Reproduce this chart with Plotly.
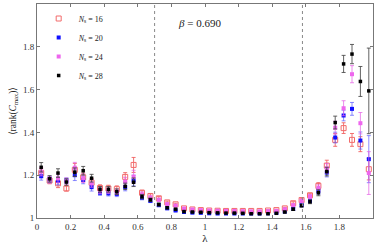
import plotly.graph_objects as go

lam = [0.025 + 0.05 * k for k in range(40)]

ns16 = [1.21, 1.175, 1.162, 1.138, 1.225, 1.19, 1.165, 1.14, 1.138, 1.135,
        1.192, 1.248, 1.118, 1.103, 1.092, 1.073, 1.064, 1.045, 1.04, 1.037,
        1.035, 1.034, 1.033, 1.033, 1.033, 1.033, 1.033, 1.035, 1.037, 1.045,
        1.069, 1.084, 1.106, 1.15, 1.245, 1.365, 1.42, 1.365, 1.345, 1.228]
ns20 = [1.195, 1.18, 1.173, 1.175, 1.20, 1.178, 1.144, 1.118, 1.115, 1.112,
        1.145, 1.175, 1.095, 1.08, 1.06, 1.045, 1.035, 1.028, 1.025, 1.024,
        1.022, 1.021, 1.021, 1.021, 1.021, 1.021, 1.021, 1.022, 1.024, 1.03,
        1.042, 1.06, 1.08, 1.125, 1.212, 1.376, 1.479, 1.51, 1.362, 1.275]
ns24 = [1.217, 1.178, 1.185, 1.172, 1.235, 1.186, 1.162, 1.13, 1.127, 1.122,
        1.17, 1.193, 1.11, 1.095, 1.085, 1.065, 1.058, 1.044, 1.04, 1.037,
        1.035, 1.034, 1.033, 1.033, 1.032, 1.031, 1.031, 1.032, 1.033, 1.041,
        1.06, 1.08, 1.1, 1.14, 1.232, 1.422, 1.513, 1.672, 1.443, 1.21]
ns28 = [1.237, 1.183, 1.21, 1.168, 1.214, 1.221, 1.186, 1.134, 1.134, 1.123,
        1.148, 1.167, 1.1, 1.085, 1.063, 1.048, 1.041, 1.03, 1.028, 1.027,
        1.025, 1.024, 1.023, 1.023, 1.022, 1.02, 1.02, 1.02, 1.022, 1.028,
        1.041, 1.058, 1.076, 1.118, 1.217, 1.446, 1.72, 1.766, 1.638, 1.594]

err16 = [0.02, 0.015, 0.02, 0.012, 0.03, 0.02, 0.02, 0.015, 0.015, 0.015,
         0.02, 0.035, 0.012, 0.01, 0.008, 0.006, 0.005, 0.004, 0.003, 0.003,
         0.003, 0.003, 0.003, 0.003, 0.003, 0.003, 0.003, 0.003, 0.004, 0.005,
         0.007, 0.008, 0.01, 0.015, 0.025, 0.03, 0.025, 0.03, 0.035, 0.05]
err20 = [0.018, 0.015, 0.018, 0.012, 0.025, 0.018, 0.018, 0.012, 0.012, 0.012,
         0.018, 0.025, 0.01, 0.008, 0.007, 0.005, 0.004, 0.003, 0.003, 0.003,
         0.003, 0.003, 0.003, 0.003, 0.003, 0.003, 0.003, 0.003, 0.003, 0.004,
         0.006, 0.007, 0.009, 0.014, 0.02, 0.025, 0.025, 0.03, 0.04, 0.11]
err24 = [0.02, 0.015, 0.02, 0.015, 0.025, 0.02, 0.018, 0.015, 0.013, 0.013,
         0.02, 0.03, 0.012, 0.009, 0.007, 0.005, 0.004, 0.003, 0.003, 0.003,
         0.003, 0.003, 0.003, 0.003, 0.003, 0.003, 0.003, 0.003, 0.003, 0.004,
         0.006, 0.008, 0.01, 0.015, 0.022, 0.03, 0.035, 0.04, 0.05, 0.1]
err28 = [0.022, 0.015, 0.02, 0.015, 0.02, 0.02, 0.018, 0.013, 0.013, 0.013,
         0.015, 0.02, 0.01, 0.008, 0.007, 0.005, 0.004, 0.003, 0.003, 0.003,
         0.003, 0.003, 0.003, 0.003, 0.003, 0.003, 0.003, 0.003, 0.003, 0.004,
         0.006, 0.007, 0.009, 0.014, 0.02, 0.03, 0.04, 0.045, 0.07, 0.2]

series_names = ["<i>N</i><sub>s</sub> = 16", "<i>N</i><sub>s</sub> = 20",
                "<i>N</i><sub>s</sub> = 24", "<i>N</i><sub>s</sub> = 28"]

beta_text = "<i>β</i> = 0.690"
crit_lines = [0.70, 1.58]
x_ticks = [0, 0.2, 0.4, 0.6, 0.8, 1, 1.2, 1.4, 1.6, 1.8]
y_ticks = [1, 1.2, 1.4, 1.6, 1.8, 2]

FONT = "Liberation Serif"

styles = [
    dict(symbol="square-open", size=5, color="#f26b6b", line=dict(width=1, color="#f26b6b")),
    dict(symbol="square", size=4, color="#1010ff"),
    dict(symbol="square", size=4, color="#ee66ee"),
    dict(symbol="square", size=3.5, color="#000000"),
]
err_colors = ["rgba(240,90,90,0.85)", "rgba(90,90,255,0.7)",
              "rgba(230,100,230,0.75)", "rgba(70,70,70,0.85)"]

fig = go.Figure()
for name, ys, es, st, ec in zip(series_names, [ns16, ns20, ns24, ns28],
                                [err16, err20, err24, err28], styles, err_colors):
    fig.add_trace(go.Scatter(
        x=lam, y=ys, mode="markers", name=name, marker=st,
        error_y=dict(type="data", array=es, visible=True, color=ec,
                     thickness=1, width=2),
    ))

for xv in crit_lines:
    fig.add_shape(type="line", x0=xv, x1=xv, y0=0, y1=1, xref="x", yref="paper",
                  line=dict(color="#888888", width=1, dash="dot"))

fig.add_annotation(x=0.97, y=1.91, xref="x", yref="y", text=beta_text,
                   showarrow=False, font=dict(family=FONT, size=11, color="#222"))

axis_common = dict(showline=True, linecolor="#777", linewidth=1, mirror="ticks",
                   ticks="inside", ticklen=3, tickcolor="#777", showgrid=False,
                   zeroline=False, tickfont=dict(family=FONT, size=9, color="#333"))

fig.update_layout(
    width=374, height=246,
    margin=dict(l=37, r=1, t=4, b=28),
    plot_bgcolor="white", paper_bgcolor="white",
    xaxis=dict(range=[0, 2], tickvals=x_ticks, ticktext=[str(v) for v in x_ticks],
               title=dict(text="λ", font=dict(family=FONT, size=11, color="#222"), standoff=2),
               **axis_common),
    yaxis=dict(range=[1, 2], tickvals=y_ticks, ticktext=[str(v) for v in y_ticks],
               title=dict(text="⟨rank(<i>C</i><sub>max</sub>)⟩",
                          font=dict(family=FONT, size=9.5, color="#222"), standoff=4),
               **axis_common),
    legend=dict(x=0.005, y=1.0, xanchor="left", yanchor="top", bgcolor="rgba(0,0,0,0)",
                font=dict(family=FONT, size=8, color="#222"), tracegroupgap=0),
    showlegend=True,
)

fig.write_html("out.html", config={"displayModeBar": False},
               post_script="document.body.style.margin='0';document.body.style.overflow='hidden';")
